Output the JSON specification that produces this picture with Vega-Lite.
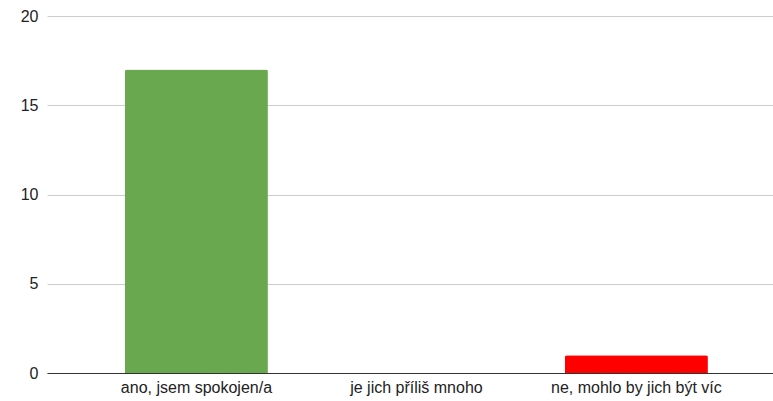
{
  "$schema": "https://vega.github.io/schema/vega-lite/v6.json",
  "width": 726,
  "height": 357,
  "autosize": {"type": "none"},
  "padding": {"left": 47, "top": 16, "right": 0, "bottom": 28},
  "background": "white",
  "data": {"values": [
    {"odpoved": "ano, jsem spokojen/a", "pocet": 17, "barva": "#6aa84f"},
    {"odpoved": "je jich příliš mnoho", "pocet": 0, "barva": "#6aa84f"},
    {"odpoved": "ne, mohlo by jich být víc", "pocet": 1, "barva": "#ff0000"}
  ]},
  "config": {
    "view": {"stroke": null},
    "font": "Liberation Sans"
  },
  "mark": {"type": "bar", "cornerRadiusEnd": 2},
  "encoding": {
    "x": {
      "field": "odpoved", "type": "nominal", "sort": null,
      "scale": {"paddingInner": 0.35, "paddingOuter": 0.325, "align": 0.545},
      "axis": {"title": null, "labelAngle": 0, "labelFontSize": 16, "labelColor": "#222", "ticks": false, "labelPadding": 6, "domainColor": "#333", "domainWidth": 1}
    },
    "y": {
      "field": "pocet", "type": "quantitative",
      "scale": {"domain": [0, 20]},
      "axis": {"title": null, "values": [0, 5, 10, 15, 20], "labelFontSize": 16, "labelColor": "#222", "ticks": false, "labelPadding": 9, "domain": false, "gridColor": "#cccccc"}
    },
    "color": {"field": "barva", "type": "nominal", "scale": null}
  }
}
